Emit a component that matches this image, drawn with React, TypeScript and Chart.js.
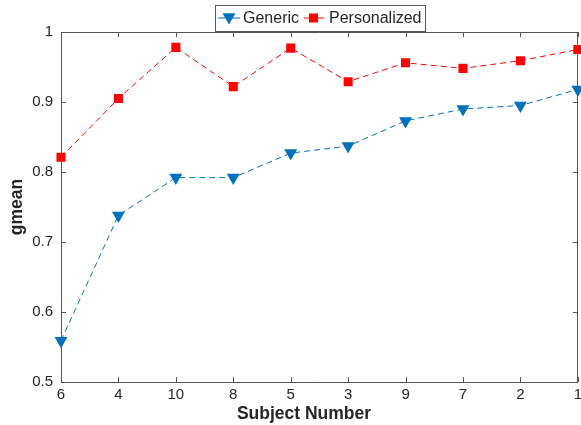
import React, { useEffect, useRef } from "react";
import { Chart, registerables } from "chart.js";
Chart.register(...registerables);

const subjects = ["6", "4", "10", "8", "5", "3", "9", "7", "2", "1"];
const genericValues = [0.559, 0.738, 0.792, 0.792, 0.827, 0.837, 0.873, 0.89, 0.895, 0.918];
const personalizedValues = [0.821, 0.905, 0.978, 0.922, 0.977, 0.929, 0.956, 0.948, 0.959, 0.975];
const yTicks = [0.5, 0.6, 0.7, 0.8, 0.9, 1];
const seriesNames = ["Generic", "Personalized"];
const xTitle = "Subject Number";
const yTitle = "gmean";

const BLUE = "#0072BD";
const RED = "#FF0000";
const AXIS = "#262626";
const FONT = "'Liberation Sans', Arial, Helvetica, sans-serif";

const decorPlugin = {
  id: "decor",
  afterDraw(chart: any) {
    const ctx = chart.ctx as CanvasRenderingContext2D;
    const { left, right, top, bottom } = chart.chartArea;
    const xs = chart.scales.x;
    const ys = chart.scales.y;
    ctx.save();
    // box
    ctx.strokeStyle = "#555";
    ctx.lineWidth = 1;
    ctx.beginPath();
    ctx.rect(Math.round(left) + 0.5, Math.round(top) + 0.5, Math.round(right - left) - 1, Math.round(bottom - top));
    ctx.stroke();
    // inward ticks
    const tl = 5;
    ctx.beginPath();
    xs.ticks.forEach((_: any, i: number) => {
      const px = Math.round(xs.getPixelForTick(i)) + 0.5;
      ctx.moveTo(px, bottom);
      ctx.lineTo(px, bottom - tl);
      ctx.moveTo(px, top);
      ctx.lineTo(px, top + tl);
    });
    ys.ticks.forEach((_: any, i: number) => {
      const py = Math.round(ys.getPixelForTick(i)) + 0.5;
      ctx.moveTo(left, py);
      ctx.lineTo(left + tl, py);
      ctx.moveTo(right, py);
      ctx.lineTo(right - tl, py);
    });
    ctx.stroke();

    // axis titles
    ctx.fillStyle = AXIS;
    ctx.font = `bold 17.5px ${FONT}`;
    ctx.textAlign = "center";
    ctx.textBaseline = "middle";
    ctx.fillText(xTitle, 304, 414);
    ctx.save();
    ctx.translate(17, (top + bottom) / 2);
    ctx.rotate(-Math.PI / 2);
    ctx.fillText(yTitle, 0, 0);
    ctx.restore();

    // legend
    const bx = 215, by = 5, bw = 210, bh = 26;
    ctx.fillStyle = "#fff";
    ctx.fillRect(bx, by, bw, bh);
    ctx.strokeStyle = "#555";
    ctx.strokeRect(bx + 0.5, by + 0.5, bw, bh);
    const cy = by + bh / 2;
    ctx.font = `16px ${FONT}`;
    ctx.textAlign = "left";
    // generic
    ctx.strokeStyle = BLUE;
    ctx.lineWidth = 1;
    ctx.beginPath();
    ctx.moveTo(218, cy);
    ctx.lineTo(240, cy);
    ctx.stroke();
    ctx.fillStyle = BLUE;
    ctx.beginPath();
    const r = 7.5;
    ctx.moveTo(229 - (r * Math.sqrt(3)) / 2, cy - r / 2 - 1);
    ctx.lineTo(229 + (r * Math.sqrt(3)) / 2, cy - r / 2 - 1);
    ctx.lineTo(229, cy + r - 1);
    ctx.closePath();
    ctx.fill();
    ctx.fillStyle = AXIS;
    ctx.fillText(seriesNames[0], 243, cy + 1);
    // personalized
    ctx.strokeStyle = RED;
    ctx.beginPath();
    ctx.moveTo(304, cy);
    ctx.lineTo(324, cy);
    ctx.stroke();
    ctx.fillStyle = RED;
    ctx.fillRect(313.5 - 4.5, cy - 4.5, 9, 9);
    ctx.fillStyle = AXIS;
    ctx.fillText(seriesNames[1], 329, cy + 1);
    ctx.restore();
  },
};

export default function App() {
  const ref = useRef<HTMLCanvasElement>(null);
  useEffect(() => {
    document.body.style.margin = "0";
    const chart = new Chart(ref.current!, {
      type: "line",
      data: {
        labels: subjects,
        datasets: [
          {
            label: seriesNames[0],
            data: genericValues,
            borderColor: BLUE,
            backgroundColor: BLUE,
            borderWidth: 1,
            borderDash: [6, 4],
            pointStyle: "triangle",
            rotation: 180,
            pointRadius: 7.5,
            pointHoverRadius: 7.5,
            pointBorderWidth: 0,
            tension: 0,
          },
          {
            label: seriesNames[1],
            data: personalizedValues,
            borderColor: RED,
            backgroundColor: RED,
            borderWidth: 1,
            borderDash: [6, 4],
            pointStyle: "rect",
            pointRadius: 6.4,
            pointHoverRadius: 6.4,
            pointBorderWidth: 0,
            tension: 0,
          },
        ],
      },
      options: {
        responsive: false,
        animation: false,
        events: [],
        layout: { padding: { left: 0, right: 3, top: 32, bottom: 0 } },
        plugins: { legend: { display: false }, title: { display: false }, tooltip: { enabled: false } },
        scales: {
          x: {
            type: "category",
            offset: false,
            grid: { display: false, drawTicks: false },
            border: { display: false },
            ticks: { color: AXIS, font: { family: FONT, size: 15 }, padding: 4, maxRotation: 0, autoSkip: false },
            afterFit: (s: any) => {
              s.height = 43;
            },
          },
          y: {
            min: 0.5,
            max: 1,
            grid: { display: false, drawTicks: false },
            border: { display: false },
            afterBuildTicks: (s: any) => {
              s.ticks = yTicks.map((v) => ({ value: v }));
            },
            ticks: {
              color: AXIS,
              font: { family: FONT, size: 15 },
              padding: 8,
              callback: (v: any) => String(Number(Number(v).toFixed(1))),
            },
            afterFit: (s: any) => {
              s.width = 61;
            },
          },
        },
      },
      plugins: [decorPlugin],
    });
    return () => chart.destroy();
  }, []);
  return (
    <div style={{ width: 581, height: 425, overflow: "hidden" }}>
      <canvas ref={ref} width={586} height={425} style={{ display: "block" }} />
    </div>
  );
}
